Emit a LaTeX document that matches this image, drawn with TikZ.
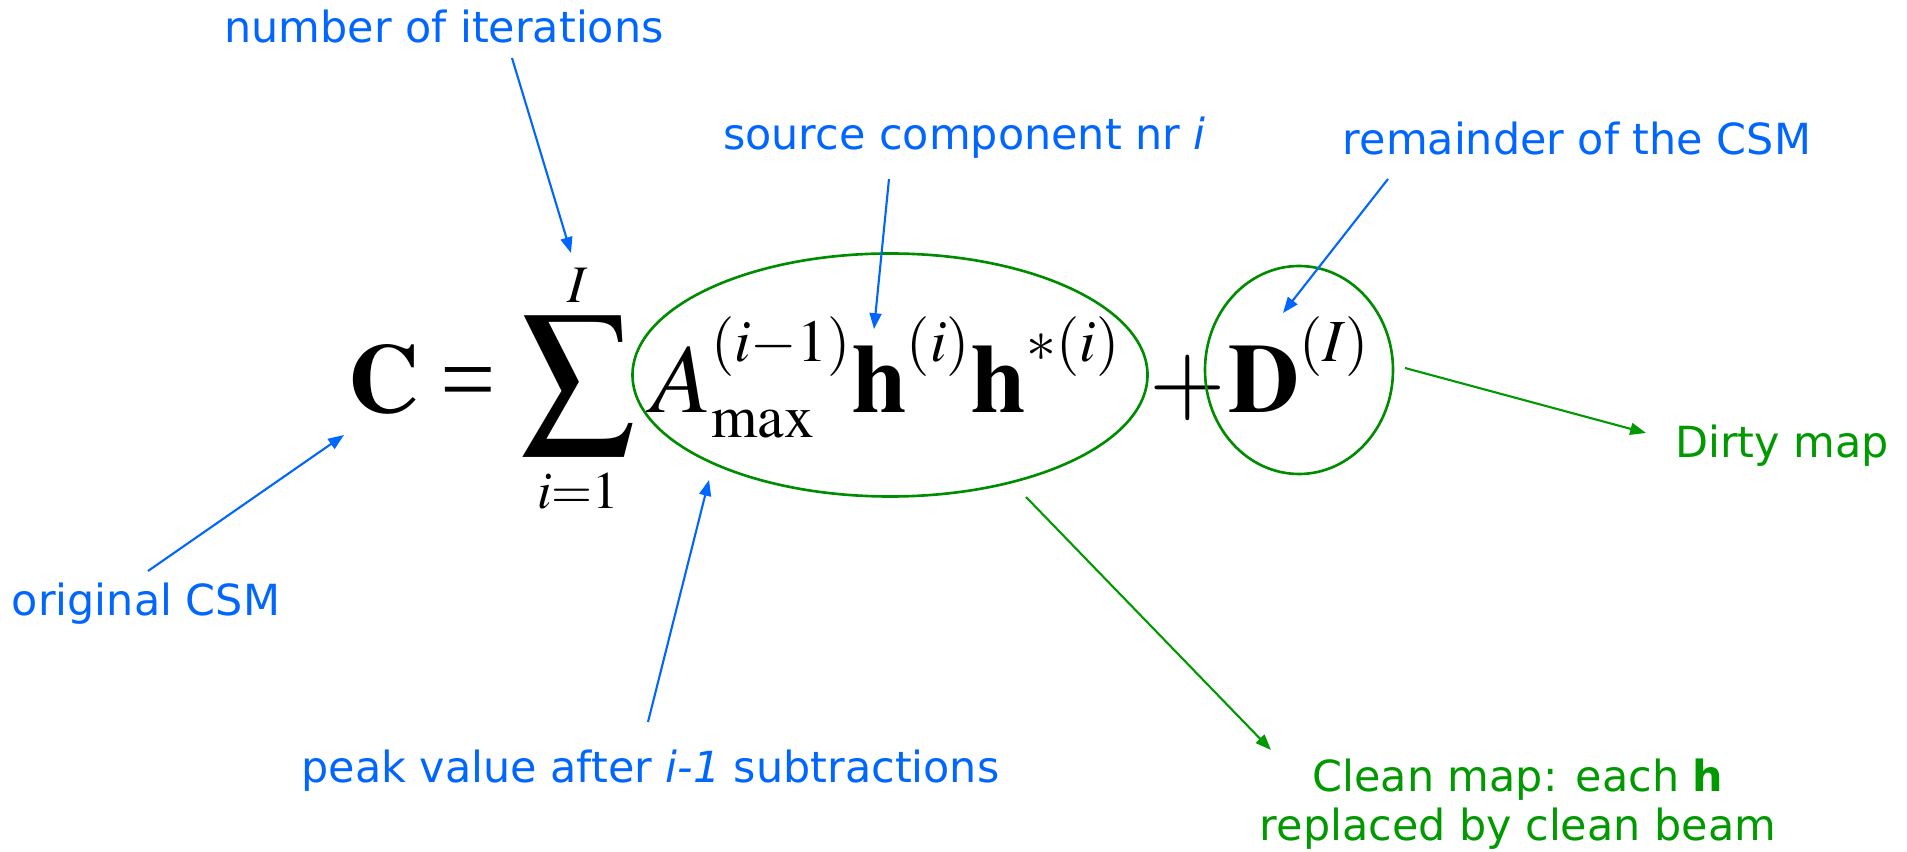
\documentclass[tikz,border=0pt]{standalone}
\usepackage{mathptmx}
\usepackage[no-math]{fontspec}
\newfontfamily\labelfont{DejaVu Sans}
\newfontfamily\timesfont{Liberation Serif}
\usetikzlibrary{arrows.meta, shapes.geometric}
\DeclareMathSizes{28}{28}{17}{12}
\DeclareMathSizes{32}{32}{15}{12}
\definecolor{noteblue}{RGB}{0,102,255}
\definecolor{mapgreen}{RGB}{0,153,0}
\definecolor{ringgreen}{RGB}{0,140,0}
\newcommand{\upsup}[1]{\raisebox{4.5pt}{$\scriptstyle #1$}}
\newcommand{\shiftlim}[2]{\raisebox{#1}[\height][\depth]{$\scriptstyle #2$}}

\begin{document}
\begin{tikzpicture}[line width=0.6pt,
          note/.style={font=\labelfont\fontsize{12.2}{13.9}\selectfont, text=noteblue,
            inner sep=0pt, anchor=base},
          mapnote/.style={note, text=mapgreen, align=center},
          pointer/.style={draw=noteblue, -{Triangle[length=4.5pt, width=3.4pt]}},
          mappointer/.style={pointer, draw=mapgreen},
          ring/.style={draw=ringgreen, line width=0.75pt, ellipse, inner sep=0pt},
          eq/.style={font=\fontsize{28}{34}\selectfont, inner sep=0pt, anchor=base west},
        ]
          \useasboundingbox (0,0) rectangle (19.07,8.51);
          % the formula
          \node[eq] (lhs)   at ( 3.47, 4.38) {$\mathbf{C}\mathrel{\hbox{\timesfont =}}$};
          \node[eq, font=\fontsize{32}{38}\selectfont, anchor=base] (sum) at (5.78, 4.38)
            {$\displaystyle\sum_{\shiftlim{4pt}{i=1}}^{\shiftlim{-5pt}{I}}$};
          \node[eq] (terms) at ( 6.50, 4.38)
            {$A^{\upsup{(i-1)}}_{\max}\mathbf{h}^{\upsup{(i)}}\mathbf{h}^{\upsup{*(i)}}$};
          \node[eq] (plus)  at (11.48, 4.38) {$+$};
          \node[eq] (rem)   at (12.27, 4.38) {$\mathbf{D}^{\upsup{(I)}}$};
          \node[ring, minimum width=5.15cm, minimum height=2.43cm] (termsring) at (8.90, 4.76) {};
          \node[ring, minimum width=1.88cm, minimum height=2.08cm] (remring)   at (12.99, 4.81) {};
          % labels
          \node[note] (iter)  at ( 4.44, 8.08) {number of iterations};
          \node[note] (src)   at ( 9.645, 7.01) {source component nr \textit{i}};
          \node[note] (rest)  at (15.77, 6.96) {remainder of the CSM};
          \node[note] (orig)  at ( 1.46, 2.36) {original CSM};
          \node[note] (peak)  at ( 6.505, 0.69) {peak value after \textit{i-1} subtractions};
          \node[mapnote] (dirty) at (17.82, 3.93) {Dirty map};
          \node[mapnote] (clean) at (15.18, 0.11) {Clean map: each \textbf{h}\\replaced by clean beam};
          % pointer ends
          \coordinate (iterT)  at ( 5.12, 7.93);
          \coordinate (iterH)  at ( 5.71, 5.98);
          \coordinate (srcT)   at ( 8.89, 6.72);
          \coordinate (srcH)   at ( 8.74, 5.22);
          \coordinate (restT)  at (13.88, 6.72);
          \coordinate (restH)  at (12.83, 5.38);
          \coordinate (origT)  at ( 1.48, 2.80);
          \coordinate (origH)  at ( 3.44, 4.16);
          \coordinate (peakT)  at ( 6.48, 1.29);
          \coordinate (peakH)  at ( 7.09, 3.71);
          \coordinate (dirtyT) at (14.05, 4.83);
          \coordinate (dirtyH) at (16.46, 4.18);
          \coordinate (cleanT) at (10.26, 3.54);
          \coordinate (cleanH) at (12.71, 1.01);
          \draw[pointer] (iterT) -- (iterH);
          \draw[pointer] (srcT) -- (srcH);
          \draw[pointer] (restT) -- (restH);
          \draw[pointer] (origT) -- (origH);
          \draw[pointer] (peakT) -- (peakH);
          \draw[mappointer] (dirtyT) -- (dirtyH);
          \draw[mappointer] (cleanT) -- (cleanH);
        \end{tikzpicture}
\end{document}
